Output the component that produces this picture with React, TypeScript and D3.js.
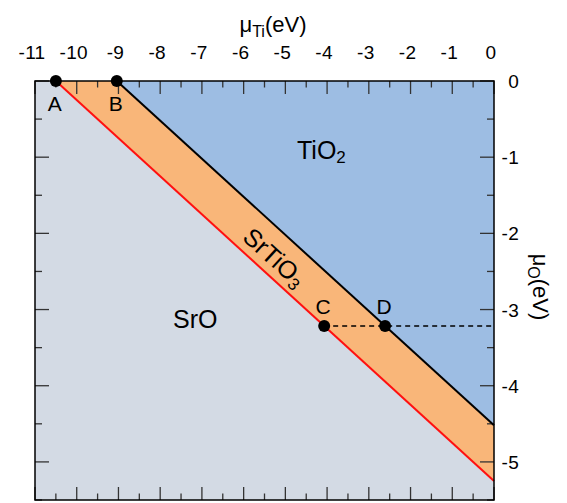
import React, { useEffect, useRef } from 'react';
import * as d3 from 'd3';

// chemical potential diagram, values in eV
const xTicks = [-11, -10, -9, -8, -7, -6, -5, -4, -3, -2, -1, 0];
const yTicks = [0, -1, -2, -3, -4, -5];
const xMinor = d3.range(-11, 0.01, 0.5);
const yMinor = d3.range(0, -5.51, -0.5);
const srOLine: [number, number][] = [[-10.5, 0], [0, -5.25]];
const tiO2Line: [number, number][] = [[-9.04, 0], [0, -4.52]];
const cdLine: [number, number][] = [[-4.07, -3.215], [0, -3.215]];
const points = [
  { name: 'A', ti: -10.5, o: 0 },
  { name: 'B', ti: -9.04, o: 0 },
  { name: 'C', ti: -4.07, o: -3.215 },
  { name: 'D', ti: -2.61, o: -3.215 },
];
const regions = [
  { name: 'SrO', fill: '#d3dae4', pts: [[-11, 0], [-10.5, 0], [0, -5.25], [0, -5.5], [-11, -5.5]] },
  { name: 'SrTiO3', fill: '#f9b679', pts: [[-10.5, 0], [-9.04, 0], [0, -4.52], [0, -5.25]] },
  { name: 'TiO2', fill: '#9dbde3', pts: [[-9.04, 0], [0, 0], [0, -4.52]] },
];

const FONT = '"Liberation Sans", Arial, Helvetica, sans-serif';

export default function App() {
  const ref = useRef<SVGSVGElement>(null);
  useEffect(() => {
    const svg = d3.select(ref.current);
    svg.selectAll('*').remove();
    const x = d3.scaleLinear().domain([-11, 0]).range([35, 494]);
    const y = d3.scaleLinear().domain([0, -5.5]).range([81, 500]);
    const line = d3.line<number[]>().x(d => x(d[0])).y(d => y(d[1]));

    regions.forEach(r => {
      svg.append('path').attr('d', line(r.pts) + 'Z').attr('fill', r.fill);
    });

    // ticks on all four sides, pointing in
    const tk = svg.append('g').attr('stroke', '#333').attr('stroke-width', 1.3);
    xMinor.forEach(v => {
      const len = Number.isInteger(v) ? 13 : 6.5;
      tk.append('line').attr('x1', x(v)).attr('x2', x(v)).attr('y1', y(0)).attr('y2', y(0) + len);
      tk.append('line').attr('x1', x(v)).attr('x2', x(v)).attr('y1', y(-5.5)).attr('y2', y(-5.5) - len);
    });
    yMinor.forEach(v => {
      const len = Number.isInteger(v) ? 14 : 7;
      tk.append('line').attr('y1', y(v)).attr('y2', y(v)).attr('x1', x(-11)).attr('x2', x(-11) + len);
      tk.append('line').attr('y1', y(v)).attr('y2', y(v)).attr('x1', x(0)).attr('x2', x(0) - len);
    });

    svg.append('path').datum(srOLine).attr('d', line).attr('stroke', '#ff1010').attr('stroke-width', 2).attr('fill', 'none');
    svg.append('path').datum(tiO2Line).attr('d', line).attr('stroke', '#000').attr('stroke-width', 2).attr('fill', 'none');
    svg.append('path').datum(cdLine).attr('d', line).attr('stroke', '#000').attr('stroke-width', 1.5)
      .attr('stroke-dasharray', '5,4').attr('fill', 'none');

    svg.append('rect').attr('x', x(-11)).attr('y', y(0)).attr('width', x(0) - x(-11)).attr('height', y(-5.5) - y(0))
      .attr('fill', 'none').attr('stroke', '#000').attr('stroke-width', 1.5);

    points.forEach(p => {
      svg.append('circle').attr('cx', x(p.ti)).attr('cy', y(p.o)).attr('r', 6).attr('fill', '#000');
      const below = p.o === 0;
      svg.append('text').text(p.name).attr('x', x(p.ti) - 1).attr('y', below ? y(p.o) + 30 : y(p.o) - 12)
        .attr('text-anchor', 'middle').attr('font-size', 21);
    });

    const lab = svg.append('g').attr('font-size', 19).attr('letter-spacing', 0.3);
    xTicks.forEach(v => {
      lab.append('text').text(v).attr('x', x(v) - 3).attr('y', 59).attr('text-anchor', 'middle');
    });
    yTicks.forEach(v => {
      lab.append('text').text(v).attr('x', 519).attr('y', y(v) + 7).attr('text-anchor', 'end');
    });

    // axis titles
    const tx = svg.append('text').attr('x', 273).attr('y', 32).attr('text-anchor', 'middle').attr('font-size', 22);
    tx.append('tspan').text('μ');
    tx.append('tspan').text('Ti').attr('font-size', 16).attr('dy', 5);
    tx.append('tspan').text('(eV)').attr('dy', -5);

    const ty = svg.append('text').attr('transform', 'translate(533,287) rotate(90)').attr('text-anchor', 'middle').attr('font-size', 22);
    ty.append('tspan').text('μ');
    ty.append('tspan').text('O').attr('font-size', 16).attr('dy', 5);
    ty.append('tspan').text('(eV)').attr('dy', -5);

    // region names
    const t1 = svg.append('text').attr('x', 297).attr('y', 159).attr('font-size', 25);
    t1.append('tspan').text('TiO');
    t1.append('tspan').text('2').attr('font-size', 17).attr('dy', 4);
    svg.append('text').text('SrO').attr('x', 173).attr('y', 328).attr('font-size', 25);
    const ang = Math.atan2(y(-5.25) - y(0), x(0) - x(-10.5)) * 180 / Math.PI;
    const t2 = svg.append('text').attr('transform', `translate(274,258) rotate(${ang})`)
      .attr('text-anchor', 'middle').attr('y', 8).attr('font-size', 25);
    t2.append('tspan').text('SrTiO');
    t2.append('tspan').text('3').attr('font-size', 17).attr('dy', 4);
  }, []);
  return (
    <svg ref={ref} width={567} height={503}
      style={{ position: 'absolute', left: 0, top: 0, background: '#fff', fontFamily: FONT }} />
  );
}
